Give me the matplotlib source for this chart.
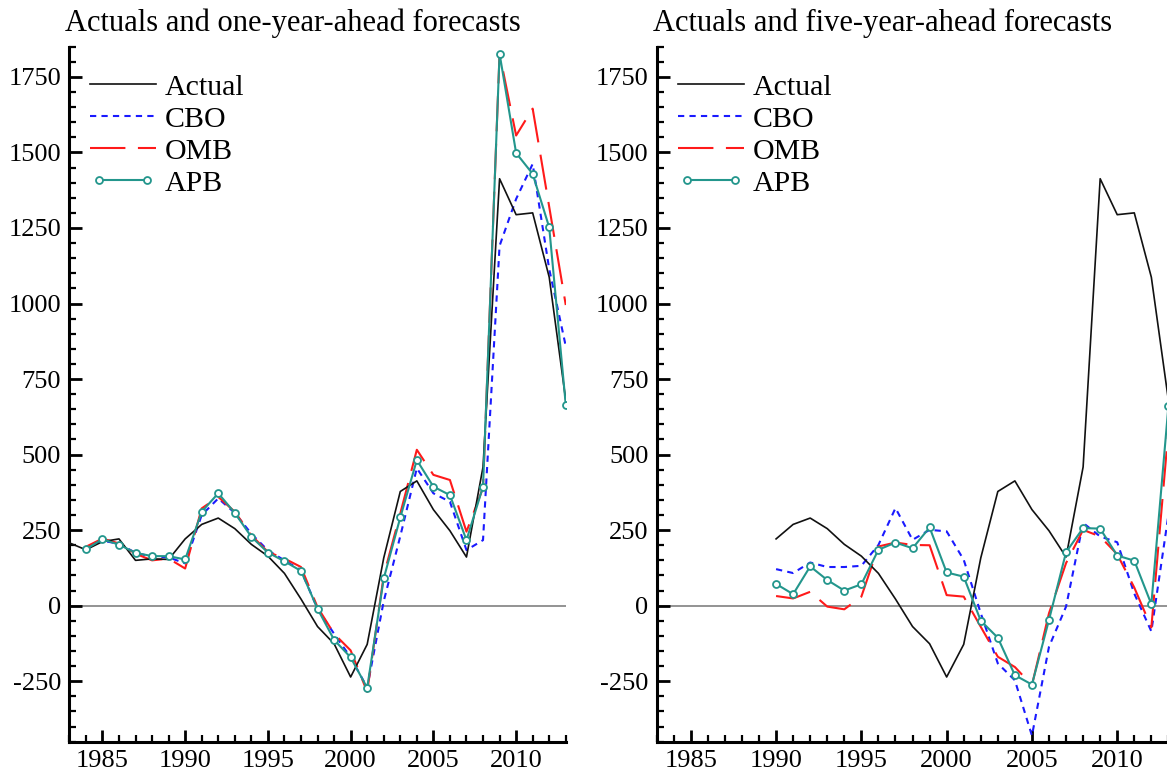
import numpy as np
import matplotlib
matplotlib.use("Agg")
from matplotlib import pyplot as plt
from matplotlib.ticker import MultipleLocator
from matplotlib.legend_handler import HandlerLine2D

plt.rcParams['font.family'] = ['Liberation Serif', 'DejaVu Serif']
plt.rcParams['axes.unicode_minus'] = False

# actual deficit, 1983-2013
years_actual = list(range(1983, 2014))
actual = [208, 185, 212, 221, 150, 155, 153, 221, 269, 290, 255, 203, 164, 107, 22,
          -69, -126, -236, -128, 158, 378, 413, 318, 248, 161, 459, 1413, 1294, 1300, 1087, 680]

# one-year-ahead forecasts, 1984-2013
years_one = list(range(1984, 2014))
cbo_one = [190, 215, 205, 175, 162, 160, 140, 300, 355, 307, 238, 183, 150, 117, -10,
           -93, -171, -271, 15, 230, 455, 372, 344, 184, 217, 1191, 1346, 1462, 1114, 859]
omb_one = [195, 222, 206, 172, 150, 156, 123, 322, 360, 311, 233, 178, 156, 128, -5,
           -93, -148, -285, 100, 305, 516, 433, 416, 245, 390, 1827, 1556, 1645, 1320, 995]
apb_one = [187, 220, 202, 175, 164, 164, 153, 311, 372, 307, 228, 176, 147, 115, -10,
           -113, -171, -272, 90, 292, 482, 394, 366, 217, 394, 1827, 1498, 1429, 1252, 665]

# five-year-ahead forecasts, 1990-2013
years_five = list(range(1990, 2014))
cbo_five = [121, 108, 143, 128, 128, 132, 201, 323, 218, 251, 246, 152, -25, -191,
            -247, -430, -136, -3, 274, 229, 210, 40, -85, 300]
omb_five = [32, 24, 46, -3, -12, 30, 196, 209, 201, 200, 35, 30, -70, -169,
            -203, -263, -25, 141, 251, 229, 170, 60, -72, 580]
apb_five = [72, 38, 130, 85, 50, 71, 185, 209, 190, 259, 110, 96, -50, -106,
            -230, -261, -47, 177, 257, 255, 166, 149, 5, 660]

titles = ['Actuals and one-year-ahead forecasts', 'Actuals and five-year-ahead forecasts']

teal = '#23968c'

fig = plt.figure(figsize=(11.67, 7.78), dpi=100)
ax1 = fig.add_axes([0.0594, 0.0467, 0.4254, 0.8933])
ax2 = fig.add_axes([0.5627, 0.0467, 0.4385, 0.8933])
fig.text(65 / 1167, 0.970, titles[0], fontsize=22, va='center', ha='left')
fig.text(653 / 1167, 0.970, titles[1], fontsize=22, va='center', ha='left')


def draw_panel(ax, yrs_a, act, yrs_f, cbo, omb, apb):
    ax.axhline(0, color='#8a8a8a', lw=1.3, zorder=1)
    ax.plot(yrs_a, act, color='#111111', lw=1.2, label='Actual', zorder=3)
    ax.plot(yrs_f, cbo, color='#1a1aff', lw=1.5, ls=(0, (3, 2.5)), label='CBO', zorder=2)
    ax.plot(yrs_f, omb, color='#ff1a1a', lw=1.5, ls=(0, (17, 6)), label='OMB', zorder=2)
    apb_line, = ax.plot(yrs_f, apb, color=teal, lw=1.5, marker='o', ms=5, mfc='white',
                        mec=teal, mew=1.3, label='APB', zorder=4)
    ax.set_xlim(1983, 2013)
    ax.set_ylim(-450, 1850)
    ax.xaxis.set_major_locator(MultipleLocator(5))
    ax.xaxis.set_minor_locator(MultipleLocator(1))
    ax.yaxis.set_major_locator(MultipleLocator(250))
    ax.yaxis.set_minor_locator(MultipleLocator(50))
    for s in ['top', 'right']:
        ax.spines[s].set_visible(False)
    for s in ['left', 'bottom']:
        ax.spines[s].set_linewidth(2.2)
    ax.tick_params(which='major', direction='in', length=9, width=2, labelsize=19, pad=6)
    ax.tick_params(which='minor', direction='in', length=5, width=1.6)
    ax.set_xticks(range(1985, 2011, 5))
    ax.legend(loc='upper left', bbox_to_anchor=(0.0, 0.978), frameon=False,
              fontsize=21.5, handlelength=2.81, handletextpad=0.0,
              labelspacing=0.17, numpoints=2, borderaxespad=0,
              handler_map={apb_line: HandlerLine2D(marker_pad=0.6)})


draw_panel(ax1, years_actual, actual, years_one, cbo_one, omb_one, apb_one)
draw_panel(ax2, years_actual[7:], actual[7:], years_five, cbo_five, omb_five, apb_five)

fig.savefig('out.png', dpi=100)
